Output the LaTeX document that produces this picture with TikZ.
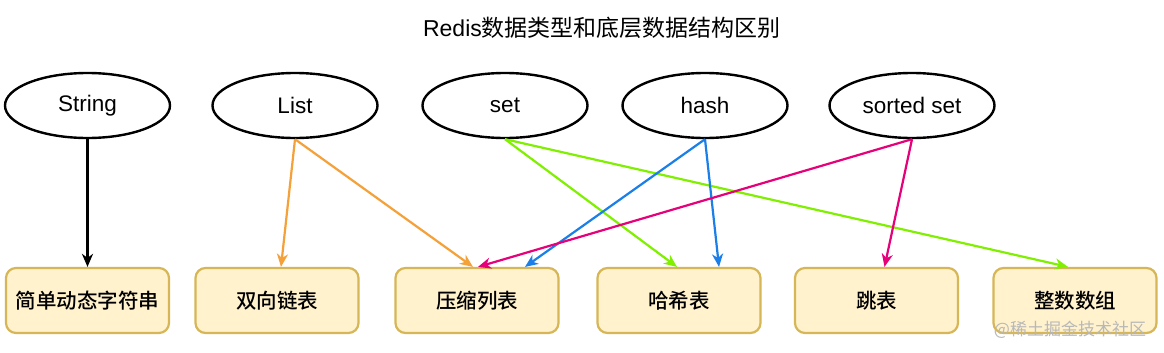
\documentclass[tikz,border=0pt]{standalone}
\usepackage{fontspec}
\setmainfont{Liberation Sans}
\newfontfamily\cjk{Noto Sans CJK SC}
\newfontfamily\cjkm{Noto Sans CJK SC}[UprightFont=* Medium]
\usetikzlibrary{shapes.geometric,arrows.meta}
\definecolor{boxfill}{HTML}{FFF2CC}
\definecolor{boxline}{HTML}{D6B656}
\definecolor{cOrange}{HTML}{F5A13A}
\definecolor{cGreen}{HTML}{80F000}
\definecolor{cBlue}{HTML}{1A7FE8}
\definecolor{cPink}{HTML}{E6007A}
\definecolor{wmgray}{HTML}{B8B8B8}
\begin{document}
\begin{tikzpicture}[x=1pt,y=-1pt,
  typenode/.style={ellipse,draw=black,line width=2.4pt,minimum width=165pt,minimum height=65pt,inner sep=0pt,font=\fontsize{22.5}{26}\selectfont},
  structbox/.style={draw=boxline,fill=boxfill,rounded corners=10pt,line width=2.2pt,minimum width=163pt,minimum height=65pt,inner sep=0pt,font=\cjkm\fontsize{20.5}{24}\selectfont},
  conn/.style={line width=2.2pt,-{Stealth[length=13pt,width=11pt,inset=4pt]}}]
\useasboundingbox[fill=white] (0,0) rectangle (1164,353);

\node[font=\fontsize{23}{27}\selectfont] (title) at (602,28) {Redis{\cjk 数据类型和底层数据结构区别}};

\node[typenode] (string) at (87.5,105.5) {String};
\node[typenode] (list)   at (295,105.5) {List};
\node[typenode] (set)    at (505,105.5) {set};
\node[typenode] (hash)   at (705,105.5) {hash};
\node[typenode] (sorted) at (912,105.5) {sorted set};

\node[structbox] (b1) at (87.5,300.5) {简单动态字符串};
\node[structbox] (b2) at (277,300.5) {双向链表};
\node[structbox] (b3) at (477,300.5) {压缩列表};
\node[structbox] (b4) at (679,300.5) {哈希表};
\node[structbox] (b5) at (876.5,300.5) {跳表};
\node[structbox] (b6) at (1075,300.5) {整数数组};

\draw[conn,black] (string.south) -- (b1.north);
\draw[conn,cOrange] (list.south) -- ([xshift=4pt]b2.north);
\draw[conn,cOrange] (list.south) -- ([xshift=-4pt]b3.north);
\draw[conn,cGreen] (set.south) -- ([xshift=-2pt]b4.north);
\draw[conn,cGreen] (set.south) -- ([xshift=-7pt]b6.north);
\draw[conn,cBlue] (hash.south) -- ([xshift=48pt]b3.north);
\draw[conn,cBlue] (hash.south) -- ([xshift=40pt]b4.north);
\draw[conn,cPink] (sorted.south) -- ([xshift=1pt]b3.north);
\draw[conn,cPink] (sorted.south) -- ([xshift=8pt]b5.north);

\node[font=\cjk\fontsize{17}{20}\selectfont,text=wmgray] (wm) at (1070,330) {@稀土掘金技术社区};
\end{tikzpicture}
\end{document}
